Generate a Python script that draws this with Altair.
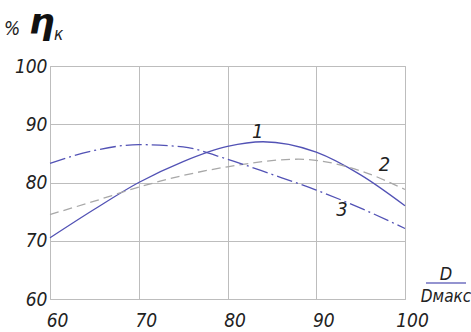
import altair as alt
import pandas as pd

x1 = [60, 65, 70, 75, 80, 84, 90, 95, 100]
y1 = [70.5, 75.4, 80.0, 83.6, 86.2, 87.0, 85.2, 81.3, 76.0]

x2 = [60, 65, 70, 75, 80, 88, 95, 100]
y2 = [74.5, 76.8, 79.2, 81.2, 82.7, 84.0, 82.0, 78.8]

x3 = [60, 65, 70, 75, 80, 85, 90, 95, 100]
y3 = [83.3, 85.5, 86.5, 86.1, 84.0, 81.4, 78.7, 75.6, 72.1]

label_text = ["1", "2", "3"]
label_x = [83.4, 97.7, 92.9]
label_y = [88.6, 83.0, 75.3]

ticks = [60, 70, 80, 90, 100]

FONT = "DejaVu Sans Condensed, Liberation Sans Narrow, Liberation Sans, sans-serif"

def df(xs, ys):
    return pd.DataFrame({"x": xs, "y": ys})

xs = alt.Scale(domain=[60, 100], nice=False)
ys = alt.Scale(domain=[60, 100], nice=False)

xax = alt.Axis(values=ticks, grid=True, gridColor="#bdbdbd", domain=False, ticks=False,
               labelFont=FONT, labelFontStyle="italic", labelFontSize=19, labelColor="#222222",
               labelPadding=12, labelAlign="center", labelOffset=7, title=None, labelFlush=False)
yax = alt.Axis(values=ticks, grid=True, gridColor="#bdbdbd", domain=False, ticks=False,
               labelFont=FONT, labelFontStyle="italic", labelFontSize=19, labelColor="#222222",
               labelPadding=3, labelBaseline="middle", title=None)

base_x = alt.X("x:Q", scale=xs, axis=xax)
base_y = alt.Y("y:Q", scale=ys, axis=yax)

c1 = alt.Chart(df(x1, y1)).mark_line(color="#5252b5", strokeWidth=1.3, interpolate="monotone").encode(x=base_x, y=base_y)
c2 = alt.Chart(df(x2, y2)).mark_line(color="#a8a8a8", strokeWidth=1.3, strokeDash=[9, 5], interpolate="monotone").encode(x="x:Q", y="y:Q")
c3 = alt.Chart(df(x3, y3)).mark_line(color="#5252b5", strokeWidth=1.3, strokeDash=[16, 4, 2, 4], interpolate="monotone").encode(x="x:Q", y="y:Q")

labels = alt.Chart(pd.DataFrame({"t": label_text, "x": label_x, "y": label_y})).mark_text(
    font=FONT, fontStyle="italic", fontSize=20, color="#222222").encode(x="x:Q", y="y:Q", text="t:N")

title_pct = alt.Chart(pd.DataFrame({"t": ["%"]})).mark_text(
    font=FONT, fontStyle="italic", fontSize=19, color="#222222", align="left", baseline="alphabetic"
).encode(x=alt.value(-46), y=alt.value(-31), text="t:N")
title_eta = alt.Chart(pd.DataFrame({"t": ["η"]})).mark_text(
    font="DejaVu Sans", fontStyle="italic", fontWeight="bold", fontSize=36, color="#111111", align="left", baseline="alphabetic"
).encode(x=alt.value(-21), y=alt.value(-32), text="t:N")
title_k = alt.Chart(pd.DataFrame({"t": ["к"]})).mark_text(
    font=FONT, fontStyle="italic", fontSize=17, color="#222222", align="left", baseline="alphabetic"
).encode(x=alt.value(4), y=alt.value(-26), text="t:N")

d_top = alt.Chart(pd.DataFrame({"t": ["D"]})).mark_text(
    font=FONT, fontStyle="italic", fontSize=18, color="#222222", align="center", baseline="alphabetic"
).encode(x=alt.value(396), y=alt.value(214), text="t:N")
d_line = alt.Chart(pd.DataFrame({"t": [0]})).mark_rule(color="#7070c0", strokeWidth=1.5).encode(
    x=alt.value(376), x2=alt.value(416), y=alt.value(217))
d_bot = alt.Chart(pd.DataFrame({"t": ["Dмакс"]})).mark_text(
    font=FONT, fontStyle="italic", fontSize=17, color="#222222", align="center", baseline="alphabetic"
).encode(x=alt.value(396), y=alt.value(236), text="t:N")

chart = alt.layer(c1, c2, c3, labels, title_pct, title_eta, title_k, d_top, d_line, d_bot).properties(
    width=355, height=233,
    autosize=alt.AutoSizeParams(type="none"),
    padding={"left": 50, "top": 66, "right": 66, "bottom": 33},
    background="white",
).configure_view(stroke="#bdbdbd", strokeWidth=1)

chart.save("out.html", embed_options={"renderer": "svg", "actions": False})
